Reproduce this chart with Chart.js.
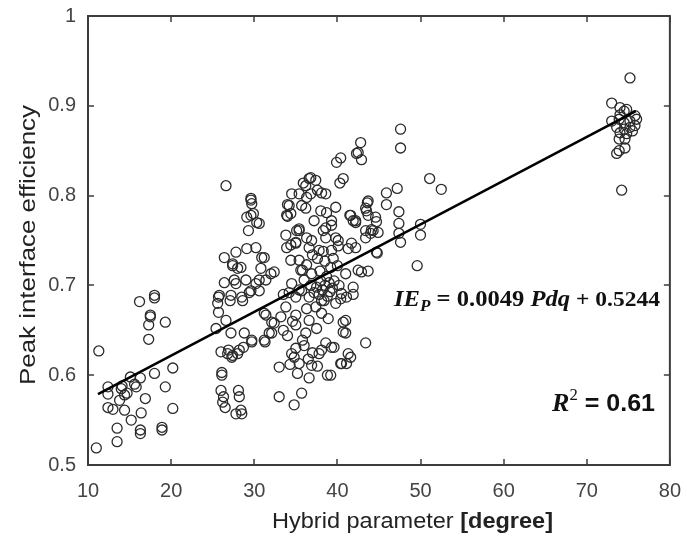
<!DOCTYPE html>
<html>
<head>
<meta charset="utf-8">
<script src="https://cdn.jsdelivr.net/npm/chart.js@4/dist/chart.umd.min.js"></script>
<style>
  html, body { margin: 0; padding: 0; background: #fff; }
  #wrap { width: 687px; height: 542px; position: relative; }
</style>
</head>
<body>
<div id="wrap"><canvas id="chart"></canvas></div>
<script>
// [Pdq (degree), IE_P], grouped by cluster
const lowPdq = [
  [11.0, 0.519], [11.3, 0.627], [12.4, 0.587], [12.4, 0.579], [12.4, 0.564], [13.0, 0.562],
  [13.5, 0.541], [13.5, 0.526], [13.8, 0.572], [14.1, 0.588], [14.4, 0.561], [14.7, 0.580],
  [15.1, 0.598], [15.2, 0.550], [15.8, 0.587], [16.2, 0.682], [16.3, 0.597], [16.4, 0.558],
  [16.3, 0.539], [16.3, 0.535], [16.9, 0.574], [17.3, 0.640], [17.3, 0.656], [17.5, 0.665],
  [17.5, 0.667], [18.0, 0.689], [18.0, 0.686], [18.0, 0.602], [18.9, 0.542], [18.9, 0.539],
  [19.3, 0.659], [19.3, 0.587], [20.2, 0.608], [20.2, 0.563], [14.0, 0.585], [15.6, 0.590],
  [14.4, 0.578],
];

const midPdq = [
  [25.4, 0.652], [25.6, 0.680], [25.7, 0.687], [25.7, 0.670], [26.0, 0.626], [26.1, 0.603],
  [26.1, 0.600], [26.0, 0.583], [26.3, 0.576], [26.5, 0.564], [26.4, 0.731], [26.4, 0.703],
  [26.6, 0.661], [26.9, 0.628], [27.1, 0.683], [27.2, 0.647], [27.3, 0.620], [27.4, 0.724],
  [27.6, 0.706], [27.8, 0.737], [28.0, 0.624], [28.1, 0.583], [28.2, 0.576], [28.4, 0.720],
  [28.4, 0.561], [28.5, 0.557], [28.6, 0.683], [28.7, 0.631], [28.8, 0.647], [29.0, 0.706],
  [29.1, 0.741], [29.1, 0.776], [29.3, 0.761], [29.6, 0.694], [29.7, 0.791], [29.7, 0.639],
  [29.9, 0.780], [30.2, 0.742], [30.6, 0.769], [30.6, 0.694], [30.6, 0.706], [30.8, 0.719],
  [31.2, 0.731], [31.4, 0.706], [31.3, 0.637], [31.4, 0.667], [32.1, 0.659], [32.1, 0.647],
  [32.4, 0.715], [33.0, 0.609], [33.0, 0.576], [26.6, 0.811], [29.6, 0.797], [29.6, 0.795],
  [29.6, 0.778], [30.3, 0.770], [30.9, 0.731], [27.4, 0.722], [28.0, 0.719], [32.0, 0.713],
  [27.8, 0.702], [30.2, 0.702], [29.4, 0.692], [25.8, 0.689], [27.2, 0.689], [28.5, 0.687],
  [31.2, 0.669], [32.4, 0.658], [31.8, 0.647], [31.2, 0.639], [29.7, 0.637], [26.8, 0.624],
  [27.4, 0.622], [28.2, 0.628], [26.2, 0.570], [27.8, 0.557],
];

const highPdq = [
  [34.2, 0.789], [33.9, 0.778], [35.4, 0.761], [35.0, 0.747], [33.9, 0.742], [34.4, 0.728],
  [35.4, 0.728], [35.8, 0.717], [34.0, 0.790], [34.0, 0.777], [34.5, 0.802], [35.1, 0.761],
  [35.9, 0.814], [36.2, 0.786], [36.3, 0.798], [36.8, 0.820], [37.4, 0.817], [37.6, 0.806],
  [38.0, 0.783], [38.6, 0.802], [38.7, 0.781], [39.8, 0.787], [39.9, 0.837], [40.4, 0.842],
  [40.3, 0.814], [40.7, 0.819], [41.5, 0.778], [41.9, 0.772], [42.3, 0.847], [42.8, 0.859],
  [42.9, 0.840], [43.6, 0.792], [43.5, 0.783], [43.4, 0.761], [44.3, 0.761], [37.2, 0.772],
  [39.3, 0.772], [39.8, 0.753], [36.9, 0.750], [38.3, 0.761], [42.5, 0.848], [36.6, 0.819],
  [36.2, 0.811], [35.4, 0.802], [35.7, 0.789], [36.8, 0.802], [38.1, 0.803], [38.6, 0.764],
  [39.3, 0.767], [41.6, 0.778], [42.2, 0.770], [43.4, 0.786], [43.7, 0.794], [35.4, 0.763],
  [34.4, 0.780], [35.0, 0.748], [36.3, 0.753], [38.6, 0.753], [40.1, 0.750], [41.7, 0.747],
  [43.4, 0.753], [37.8, 0.739], [39.3, 0.739], [36.6, 0.742], [41.3, 0.741],
  [47.6, 0.874], [47.6, 0.853], [51.1, 0.819], [52.5, 0.807], [45.9, 0.803], [47.2, 0.808],
  [45.9, 0.790], [43.7, 0.778], [47.4, 0.782], [47.4, 0.769], [47.4, 0.758], [44.7, 0.771],
  [44.9, 0.759], [44.1, 0.762], [50.0, 0.768], [50.0, 0.756], [47.6, 0.748], [42.2, 0.772],
  [49.6, 0.722], [43.4, 0.636], [40.7, 0.659], [40.7, 0.648], [41.9, 0.690], [41.1, 0.687],
  [40.4, 0.685], [42.9, 0.715], [43.7, 0.716], [44.7, 0.737], [42.2, 0.742], [41.3, 0.624],
  [40.5, 0.613], [41.6, 0.620], [39.6, 0.631], [39.2, 0.600], [41.0, 0.713], [40.1, 0.744],
  [44.0, 0.758], [44.6, 0.776], [44.8, 0.736],
  [34.8, 0.567], [35.7, 0.580], [36.6, 0.597], [35.2, 0.602], [34.8, 0.620], [35.4, 0.613],
  [34.5, 0.624], [36.0, 0.633], [36.9, 0.611], [37.8, 0.624], [38.1, 0.628], [38.6, 0.636],
  [39.3, 0.631], [38.8, 0.600], [40.4, 0.613], [41.1, 0.613], [41.0, 0.661], [41.0, 0.647],
  [35.0, 0.656], [36.2, 0.647], [36.6, 0.661], [37.5, 0.652], [38.1, 0.669], [38.9, 0.663],
  [36.3, 0.674], [35.0, 0.667], [35.6, 0.717], [36.9, 0.713], [42.5, 0.717], [41.9, 0.698],
  [40.5, 0.691], [34.5, 0.702], [35.0, 0.687], [35.7, 0.694], [36.6, 0.687], [37.4, 0.676],
  [38.1, 0.683], [39.8, 0.680],
  [37.8, 0.690], [38.2, 0.695], [38.5, 0.700], [38.8, 0.688], [39.1, 0.693], [37.5, 0.698],
  [38.0, 0.705], [39.0, 0.703], [38.4, 0.683], [37.2, 0.692], [39.4, 0.697], [38.7, 0.710],
  [37.9, 0.716], [39.2, 0.720], [38.5, 0.727], [37.6, 0.730], [39.6, 0.705], [36.8, 0.700],
  [36.3, 0.723], [37.0, 0.734], [38.3, 0.738], [39.5, 0.730], [40.0, 0.722], [40.2, 0.700],
  [36.0, 0.706], [35.4, 0.695], [34.2, 0.692], [33.8, 0.676], [34.6, 0.660], [33.5, 0.650],
  [33.2, 0.665], [34.0, 0.644], [35.8, 0.639], [37.0, 0.625], [36.5, 0.618], [35.0, 0.630],
  [34.3, 0.612], [37.6, 0.610], [33.5, 0.690], [34.4, 0.745], [33.8, 0.756],
];

const topPdq = [
  [75.2, 0.931], [73.0, 0.903], [74.0, 0.898], [74.5, 0.894], [74.8, 0.896], [75.8, 0.889],
  [76.0, 0.885], [73.0, 0.883], [73.9, 0.885], [74.5, 0.881], [75.2, 0.883], [73.6, 0.876],
  [74.5, 0.874], [75.2, 0.876], [75.8, 0.878], [74.0, 0.870], [74.8, 0.869], [73.9, 0.863],
  [74.6, 0.863], [73.9, 0.850], [74.6, 0.853], [73.6, 0.847], [74.2, 0.806], [75.5, 0.872],
  [74.0, 0.890],
];

// fitted line end points
const fitLine = [[11.2, 0.579], [75.9, 0.894]];

const xTicks = [10, 20, 30, 40, 50, 60, 70, 80];
const yTicks = [0.5, 0.6, 0.7, 0.8, 0.9, 1];

const SANS = '"Liberation Sans", Arial, sans-serif';
const SERIF = '"Liberation Serif", "DejaVu Serif", serif';

const toPoints = (rows) => rows.map(([x, y]) => ({ x, y }));
const samples = [...lowPdq, ...midPdq, ...highPdq, ...topPdq];

// draws text runs with mixed fonts, squeezed/stretched to a given width
function drawRuns(ctx, runs, left, baseline, width) {
  let total = 0;
  runs.forEach((r) => { ctx.font = r.font; total += ctx.measureText(r.text).width; });
  const sx = width ? width / total : 1;
  ctx.save();
  ctx.translate(left, baseline);
  ctx.scale(sx, 1);
  let cx = 0;
  runs.forEach((r) => {
    ctx.font = r.font;
    ctx.fillText(r.text, cx, r.dy || 0);
    cx += ctx.measureText(r.text).width;
  });
  ctx.restore();
}

const framePlugin = {
  id: "frame",
  afterDatasetsDraw(chart) {
    const { ctx, chartArea: a, scales: { x, y } } = chart;
    ctx.save();
    ctx.strokeStyle = "#3c3c3c";
    ctx.lineWidth = 2;
    ctx.strokeRect(a.left, a.top, a.right - a.left, a.bottom - a.top);

    ctx.lineWidth = 1.5;
    ctx.beginPath();
    xTicks.forEach((v) => {
      const px = Math.round(x.getPixelForValue(v));
      ctx.moveTo(px, a.bottom); ctx.lineTo(px, a.bottom - 6);
      ctx.moveTo(px, a.top); ctx.lineTo(px, a.top + 6);
    });
    yTicks.forEach((v) => {
      const py = Math.round(y.getPixelForValue(v));
      ctx.moveTo(a.left, py); ctx.lineTo(a.left + 6, py);
      ctx.moveTo(a.right, py); ctx.lineTo(a.right - 6, py);
    });
    ctx.stroke();

    // regression equation and R^2
    ctx.fillStyle = "#111";
    ctx.textAlign = "left";
    ctx.textBaseline = "alphabetic";
    drawRuns(ctx, [
      { text: "IE", font: `italic bold 23px ${SERIF}` },
      { text: "P", font: `italic bold 16px ${SERIF}`, dy: 5 },
      { text: " = 0.0049 ", font: `bold 23px ${SERIF}` },
      { text: "Pdq", font: `italic bold 23px ${SERIF}` },
      { text: " + 0.5244", font: `bold 22px ${SERIF}` },
    ], 394, 306, 266);

    drawRuns(ctx, [
      { text: "R", font: `italic bold 25px ${SERIF}` },
      { text: "2", font: `16px ${SERIF}`, dy: -11 },
      { text: " = 0.61", font: `bold 24px ${SANS}` },
    ], 552, 411, 103);

    // axis titles
    ctx.fillStyle = "#222";
    drawRuns(ctx, [
      { text: "Hybrid parameter ", font: `22px ${SANS}` },
      { text: "[degree]", font: `bold 22px ${SANS}` },
    ], 272, 528, 281);

    ctx.save();
    ctx.translate(35, 385);
    ctx.rotate(-Math.PI / 2);
    drawRuns(ctx, [{ text: "Peak interface efficiency", font: `22px ${SANS}` }], 0, 0, 280);
    ctx.restore();
    ctx.restore();
  },
};

new Chart(document.getElementById("chart"), {
  type: "scatter",
  data: {
    datasets: [
      {
        type: "line",
        data: toPoints(fitLine),
        borderColor: "#000",
        borderWidth: 2.5,
        pointRadius: 0,
        fill: false,
      },
      {
        data: toPoints(samples),
        pointStyle: "circle",
        pointRadius: 5,
        backgroundColor: "rgba(0,0,0,0)",
        borderColor: "#2a2a2a",
        borderWidth: 1.3,
      },
    ],
  },
  options: {
    responsive: true,
    maintainAspectRatio: false,
    animation: false,
    layout: { padding: { top: 15, right: 14, left: 0, bottom: 0 } },
    plugins: { legend: { display: false }, tooltip: { enabled: false } },
    scales: {
      x: {
        type: "linear",
        min: 10,
        max: 80,
        grid: { display: false },
        border: { display: false },
        afterBuildTicks: (s) => { s.ticks = xTicks.map((value) => ({ value })); },
        afterFit: (s) => { s.height = 77; },
        ticks: {
          padding: 6,
          color: "#444",
          font: { family: SANS, size: 20 },
          maxRotation: 0,
        },
      },
      y: {
        type: "linear",
        min: 0.5,
        max: 1,
        grid: { display: false },
        border: { display: false },
        afterBuildTicks: (s) => { s.ticks = yTicks.map((value) => ({ value })); },
        afterFit: (s) => { s.width = 88; },
        ticks: {
          padding: 4,
          color: "#444",
          font: { family: SANS, size: 20 },
          callback: (v) => (v === 1 ? "1" : v.toFixed(1)),
        },
      },
    },
  },
  plugins: [framePlugin],
});
</script>
</body>
</html>
